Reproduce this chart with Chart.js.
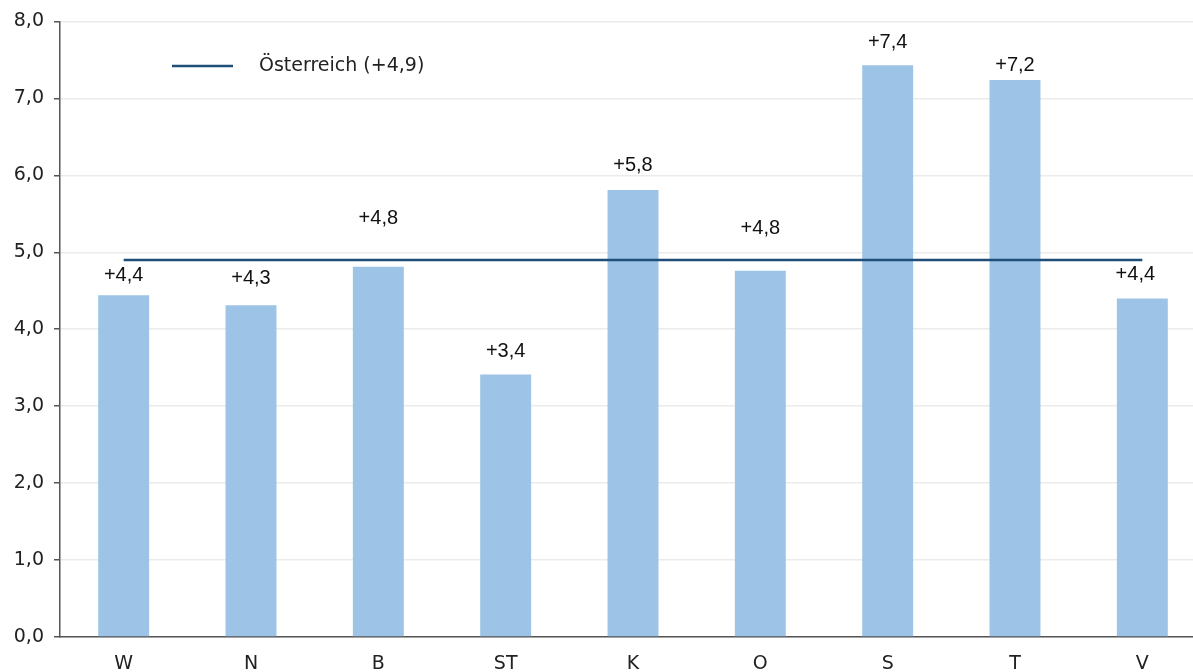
<!DOCTYPE html>
<html>
<head>
<meta charset="utf-8">
<script src="https://cdn.jsdelivr.net/npm/chart.js@4"></script>
<style>
  html, body { margin: 0; padding: 0; background: #fff; overflow: hidden; }
  #wrap { width: 1206px; height: 672px; }
</style>
</head>
<body>
<div id="wrap"><canvas id="c" width="1206" height="672"></canvas></div>
<script>
// Bundesländer and their growth rates (%)
const categories = ['W', 'N', 'B', 'ST', 'K', 'O', 'S', 'T', 'V'];
const growth = [4.44, 4.31, 4.81, 3.41, 5.81, 4.76, 7.43, 7.24, 4.40];
// National average
const austriaValue = [4.9];
const austriaName = 'Österreich';
// Y-axis tick range
const yTicks = [0, 1, 2, 3, 4, 5, 6, 7, 8];

const fmt = v => v.toFixed(1).replace('.', ',');
const signed = v => (v >= 0 ? '+' : '') + fmt(v);

const TICK_FONT = '"DejaVu Sans", "Lato", sans-serif';
const LABEL_FONT = '"Liberation Sans", Arial, sans-serif';

// Value labels above the bars; shifted where they would collide with the average line
const valueLabels = {
  id: 'valueLabels',
  afterDatasetsDraw(chart, args, opts) {
    const { ctx } = chart;
    const meta = chart.getDatasetMeta(0);
    ctx.save();
    ctx.font = '20px ' + LABEL_FONT;
    ctx.fillStyle = '#111';
    ctx.textAlign = 'center';
    ctx.textBaseline = 'middle';
    meta.data.forEach((bar, i) => {
      ctx.fillText(signed(growth[i]), bar.x + opts.shift[i], bar.y - opts.lift[i]);
    });
    ctx.restore();
  }
};

// Legend entry drawn inside the plot area
const innerLegend = {
  id: 'innerLegend',
  afterDraw(chart, args, opts) {
    const { ctx } = chart;
    const ds = chart.data.datasets[1];
    ctx.save();
    ctx.strokeStyle = ds.borderColor;
    ctx.lineWidth = ds.borderWidth;
    ctx.beginPath();
    ctx.moveTo(opts.x, opts.y);
    ctx.lineTo(opts.x + 61, opts.y);
    ctx.stroke();
    ctx.font = '19px ' + TICK_FONT;
    ctx.fillStyle = '#222';
    ctx.textBaseline = 'middle';
    ctx.fillText(ds.label, opts.x + 87, opts.y);
    ctx.restore();
  }
};

new Chart(document.getElementById('c'), {
  data: {
    labels: categories,
    datasets: [
      {
        type: 'bar',
        label: 'Bundesländer',
        data: growth,
        backgroundColor: '#9dc3e6',
        barPercentage: 0.4,
        categoryPercentage: 1.0,
        order: 2
      },
      {
        type: 'line',
        label: austriaName + ' (' + signed(austriaValue[0]) + ')',
        data: categories.map(() => austriaValue[0]),
        borderColor: '#1f4e79',
        borderWidth: 2.5,
        pointRadius: 0,
        fill: false,
        order: 1
      }
    ]
  },
  plugins: [valueLabels, innerLegend],
  options: {
    responsive: false,
    animation: false,
    layout: { padding: { top: 20, right: 0, left: 0, bottom: 0 } },
    plugins: {
      legend: { display: false },
      tooltip: { enabled: false },
      valueLabels: {
        lift: [20, 27, 48, 23, 24, 42, 23, 14, 24],
        shift: [0, 0, 0, 0, 0, 0, 0, 0, -7]
      },
      innerLegend: { x: 172, y: 66 }
    },
    scales: {
      x: {
        grid: { display: false, drawTicks: false },
        border: { display: true, color: '#555', width: 1.5 },
        ticks: {
          color: '#222',
          padding: 16,
          font: { family: TICK_FONT, size: 19 }
        },
        afterFit(scale) { scale.height = 35; }
      },
      y: {
        min: yTicks[0],
        max: yTicks[yTicks.length - 1],
        afterBuildTicks(scale) { scale.ticks = yTicks.map(v => ({ value: v })); },
        grid: { color: '#ebebeb', lineWidth: 1.5, tickLength: 6, tickColor: '#555' },
        border: { display: true, color: '#555', width: 1.5 },
        ticks: {
          color: '#222',
          padding: 10,
          font: { family: TICK_FONT, size: 19 },
          callback: v => fmt(v)
        },
        afterFit(scale) { scale.width = 60; }
      }
    }
  }
});
</script>
</body>
</html>
